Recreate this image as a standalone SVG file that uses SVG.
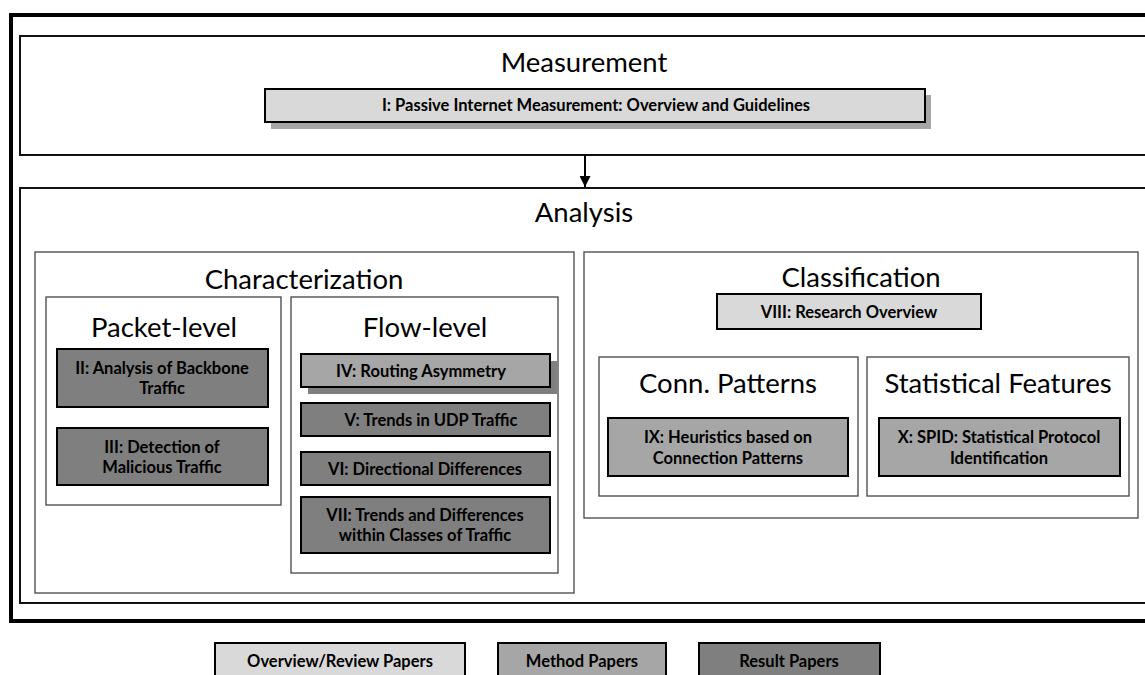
<svg xmlns="http://www.w3.org/2000/svg" width="1145" height="675" viewBox="0 0 1145 675">
<style>
.title{font-family:Lato,"Liberation Sans",sans-serif;font-size:27.5px;fill:#000;text-anchor:middle}
.lbl{font-family:Lato,"Liberation Sans",sans-serif;font-weight:bold;font-size:16.5px;fill:#000;text-anchor:middle}
.outer{fill:#fff;stroke:#000;stroke-width:4}
.frame{fill:#fff;stroke:#111;stroke-width:2}
.grp{fill:#fff;stroke:#444;stroke-width:1.3}
.ov{fill:#d9d9d9;stroke:#000;stroke-width:2}
.me{fill:#a6a6a6;stroke:#000;stroke-width:2}
.re{fill:#7f7f7f;stroke:#000;stroke-width:2}
.sh1{fill:#a6a6a6}
.sh2{fill:#7f7f7f}
.conn{stroke:#000;stroke-width:2;fill:none}
</style>
<defs>
<marker id="arr" viewBox="0 0 10 10" refX="10" refY="5" markerWidth="11" markerHeight="11" orient="auto" markerUnits="userSpaceOnUse">
<path d="M0,0 L10,5 L0,10 z" fill="#000"/>
</marker>
</defs>
<rect width="1145" height="675" fill="#fff"/>
<rect class="outer" x="11" y="15" width="1160" height="606"/>

<g id="measurement">
<rect class="frame" x="20" y="36" width="1150" height="119"/>
<text class="title" x="584" y="72">Measurement</text>
</g>
<g id="paper-I">
<rect class="sh1" x="271" y="95" width="660" height="34"/>
<rect class="ov" x="265" y="89" width="660" height="33"/>
<text class="lbl" x="596" y="111">I: Passive Internet Measurement: Overview and Guidelines</text>
</g>

<g id="analysis">
<rect class="frame" x="20" y="188" width="1150" height="415"/>
<text class="title" x="584" y="222">Analysis</text>
</g>

<g id="characterization">
<rect class="grp" x="35" y="252" width="539" height="341"/>
<text class="title" x="304" y="289">Characterization</text>
</g>
<g id="packet-level">
<rect class="grp" x="46" y="297" width="235" height="208"/>
<text class="title" x="164" y="337">Packet-level</text>
</g>
<g id="paper-II">
<rect class="re" x="57" y="349" width="211" height="58"/>
<text class="lbl" x="162" y="374">II: Analysis of Backbone</text>
<text class="lbl" x="162" y="394">Traffic</text>
</g>
<g id="paper-III">
<rect class="re" x="57" y="428" width="211" height="57"/>
<text class="lbl" x="162" y="453">III: Detection of</text>
<text class="lbl" x="162" y="473">Malicious Traffic</text>
</g>
<g id="flow-level">
<rect class="grp" x="291" y="297" width="267" height="276"/>
<text class="title" x="425" y="337">Flow-level</text>
</g>
<g id="paper-IV">
<rect class="sh2" x="308" y="361" width="249" height="33"/>
<rect class="me" x="301" y="354" width="249" height="33"/>
<text class="lbl" x="421" y="376.5">IV: Routing Asymmetry</text>
</g>
<g id="paper-V">
<rect class="re" x="301" y="403" width="249" height="33"/>
<text class="lbl" x="431" y="425.5">V: Trends in UDP Traffic</text>
</g>
<g id="paper-VI">
<rect class="re" x="301" y="452" width="249" height="33"/>
<text class="lbl" x="425" y="474.5">VI: Directional Differences</text>
</g>
<g id="paper-VII">
<rect class="re" x="301" y="497" width="249" height="56"/>
<text class="lbl" x="425" y="521">VII: Trends and Differences</text>
<text class="lbl" x="425" y="541">within Classes of Traffic</text>
</g>

<g id="classification">
<rect class="grp" x="584" y="252" width="554" height="266"/>
<text class="title" x="861" y="287">Classification</text>
</g>
<g id="paper-VIII">
<rect class="ov" x="717" y="294" width="264" height="35"/>
<text class="lbl" x="849" y="317.5">VIII: Research Overview</text>
</g>
<g id="conn-patterns">
<rect class="grp" x="599" y="357" width="259" height="139"/>
<text class="title" x="728" y="393">Conn. Patterns</text>
</g>
<g id="paper-IX">
<rect class="me" x="608" y="418" width="240" height="58"/>
<text class="lbl" x="728" y="443">IX: Heuristics based on</text>
<text class="lbl" x="728" y="464">Connection Patterns</text>
</g>
<g id="statistical-features">
<rect class="grp" x="867" y="357" width="262" height="139"/>
<text class="title" x="998" y="393">Statistical Features</text>
</g>
<g id="paper-X">
<rect class="me" x="879" y="418" width="241" height="58"/>
<text class="lbl" x="999" y="443">X: SPID: Statistical Protocol</text>
<text class="lbl" x="999" y="464">Identification</text>
</g>

<g id="connectors">
<line class="conn" x1="585" y1="155" x2="585" y2="187" marker-end="url(#arr)"/>
</g>

<g id="legend-overview">
<rect class="ov" x="215" y="643" width="250" height="45"/>
<text class="lbl" x="340" y="667">Overview/Review Papers</text>
</g>
<g id="legend-method">
<rect class="me" x="498" y="643" width="168" height="45"/>
<text class="lbl" x="582" y="667">Method Papers</text>
</g>
<g id="legend-result">
<rect class="re" x="699" y="643" width="181" height="45"/>
<text class="lbl" x="789" y="667">Result Papers</text>
</g>
</svg>
